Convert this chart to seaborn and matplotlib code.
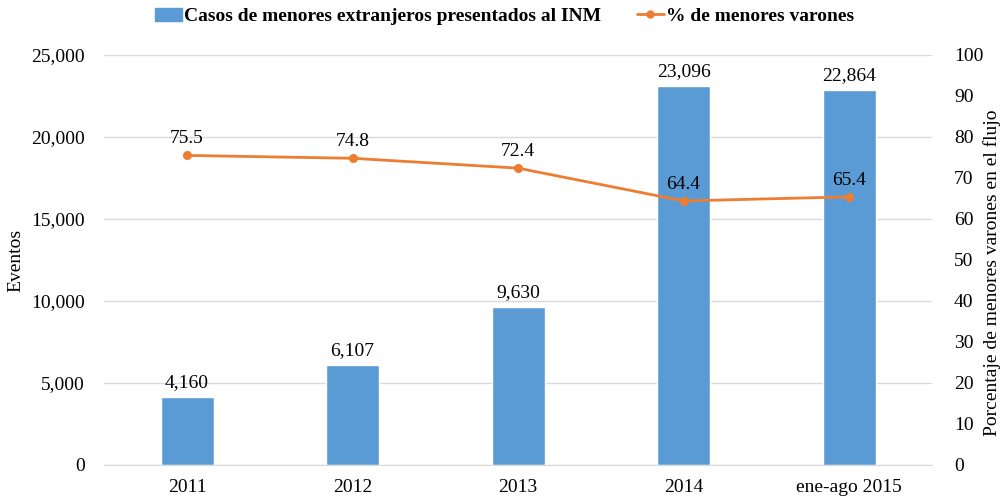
import pandas as pd
import matplotlib.pyplot as plt
import seaborn as sns
from matplotlib.lines import Line2D
from matplotlib.patches import Patch

periodos = ["2011", "2012", "2013", "2014", "ene-ago 2015"]
casos = [4160, 6107, 9630, 23096, 22864]
pct_varones = [75.5, 74.8, 72.4, 64.4, 65.4]

df = pd.DataFrame({"periodo": periodos, "casos": casos, "pct": pct_varones})

sns.set_style("white")
plt.rcParams["font.family"] = ["Liberation Serif", "DejaVu Serif"]
plt.rcParams["text.color"] = "black"
plt.rcParams["axes.labelcolor"] = "black"
plt.rcParams["xtick.color"] = "black"
plt.rcParams["ytick.color"] = "black"

azul = "#5B9BD5"
naranja = "#ED7D31"
fs = 14

fig = plt.figure(figsize=(10.03, 4.97), dpi=100)
ax = fig.add_axes([0.104, 0.0644, 0.825, 0.825])

sns.barplot(data=df, x="periodo", y="casos", color=azul, width=0.32,
            saturation=1, ax=ax)
ax.set_ylim(0, 25000)
ax.set_yticks(range(0, 25001, 5000))
ax.set_yticklabels([f"{v:,}" for v in range(0, 25001, 5000)], fontsize=fs)
ax.grid(axis="y", color="#d9d9d9", linewidth=1)
ax.set_axisbelow(True)
ax.set_xlabel("")
ax.set_ylabel("Eventos", fontsize=fs)
ax.yaxis.set_label_coords(-0.096, 0.5)
ax.tick_params(axis="x", labelsize=fs, length=0, pad=10)
ax.tick_params(axis="y", length=0, pad=14)
for s in ["top", "left", "right"]:
    ax.spines[s].set_visible(False)
ax.spines["bottom"].set_color("#d9d9d9")

for i, v in enumerate(casos):
    ax.text(i, v + 600, f"{v:,}", ha="center", va="baseline", fontsize=fs)

ax2 = ax.twinx()
sns.pointplot(data=df, x="periodo", y="pct", color=naranja, markers="o",
              markersize=5, linewidth=2, ax=ax2)
ax2.set_ylim(0, 100)
ax2.set_yticks(range(0, 101, 10))
ax2.set_yticklabels([str(v) for v in range(0, 101, 10)], fontsize=fs)
ax2.set_ylabel("Porcentaje de menores varones en el flujo", fontsize=fs)
ax2.yaxis.set_label_coords(1.062, 0.47)
ax2.tick_params(axis="y", length=0, pad=16)
for s in ["top", "left", "right", "bottom"]:
    ax2.spines[s].set_visible(False)

for i, v in enumerate(pct_varones):
    ax2.text(i, v + 3.0, f"{v}", ha="center", va="baseline", fontsize=fs)

handles = [Patch(color=azul),
           Line2D([], [], color=naranja, marker="o", markersize=5, linewidth=2)]
labels = ["Casos de menores extranjeros presentados al INM", "% de menores varones"]
fig.legend(handles, labels, loc="upper center", bbox_to_anchor=(0.503, 1.02),
           ncol=2, frameon=False, prop={"weight": "bold", "size": fs},
           handlelength=1.4, columnspacing=1.8, handletextpad=0.1)

fig.savefig("out.png", dpi=100)
